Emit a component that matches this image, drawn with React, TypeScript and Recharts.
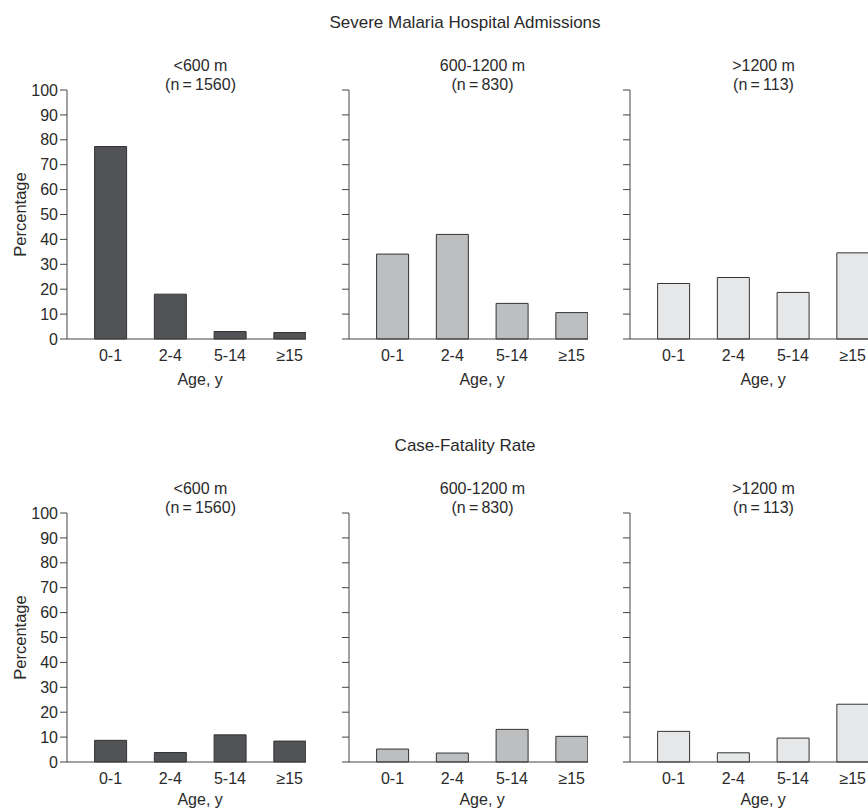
import { BarChart, Bar, XAxis, YAxis, Rectangle } from 'recharts';

const ageGroups = ['0-1', '2-4', '5-14', '≥15'];
const altitudeBands = ['<600 m', '600-1200 m', '>1200 m'];
const sampleSizes = [1560, 830, 113];
const yTicks = [0, 10, 20, 30, 40, 50, 60, 70, 80, 90, 100];

const admissionsLow = [77.3, 18, 3, 2.6];
const admissionsMid = [34.1, 42, 14.3, 10.6];
const admissionsHigh = [22.3, 24.7, 18.7, 34.6];

const fatalityLow = [8.7, 3.8, 10.9, 8.4];
const fatalityMid = [5.2, 3.6, 13.1, 10.3];
const fatalityHigh = [12.3, 3.7, 9.6, 23.2];

const bandFills = ['#525356', '#bdbec0', '#e6e7e8'];

const font = '"Liberation Sans", Arial, sans-serif';
const textColor = '#2a2a2a';
const axisColor = '#444';
const shift = 13.6;

// bars sit against the right side of each category band
const shiftedBar = (props: any) => (
  <Rectangle
    x={props.x + shift}
    y={props.y}
    width={props.width}
    height={props.height}
    fill={props.fill}
    stroke="#333"
    strokeWidth={1}
  />
);

function Panel({ values, fill, first, left, top, ageOffset }: any) {
  const data = ageGroups.map((age, i) => ({ age, value: values[i] }));
  return (
    <div style={{ position: 'absolute', left, top }}>
      <BarChart width={298} height={309} data={data} margin={{ top: 10, right: 0, bottom: 0, left: 0 }}>
        <XAxis
          dataKey="age"
          interval={0}
          tickLine={false}
          tickMargin={5}
          height={50}
          axisLine={{ stroke: axisColor }}
          tick={{ fontSize: 16, fill: textColor, fontFamily: font, dx: shift }}
          label={{ value: 'Age, y', position: 'insideBottom', offset: ageOffset, dx: shift, fontSize: 16, fill: textColor, fontFamily: font }}
        />
        <YAxis
          domain={[0, 100]}
          ticks={yTicks}
          width={59}
          tickSize={7}
          tickMargin={2}
          axisLine={{ stroke: axisColor }}
          tickLine={{ stroke: axisColor }}
          tick={{ fontSize: 16, fill: textColor, fontFamily: font }}
          tickFormatter={first ? undefined : () => ''}
          label={
            first
              ? { value: 'Percentage', angle: -90, position: 'insideLeft', offset: 12, fontSize: 16.5, fill: textColor, fontFamily: font, style: { textAnchor: 'middle' } }
              : undefined
          }
        />
        <Bar dataKey="value" fill={fill} barSize={32} shape={shiftedBar} isAnimationActive={false} />
      </BarChart>
    </div>
  );
}

function Subtitle({ idx, left, top }: any) {
  return (
    <div
      style={{
        position: 'absolute',
        left: left + 59 + 133.5 - 80,
        top: top - 24.5,
        width: 160,
        textAlign: 'center',
        fontFamily: font,
        fontSize: 16,
        lineHeight: '19px',
        color: textColor,
      }}
    >
      {altitudeBands[idx]}
      <br />
      (n{'\u2009'}={'\u2009'}{sampleSizes[idx]})
    </div>
  );
}

const panelLefts = [0, 282, 563];

export default function App() {
  const rows = [
    { title: 'Severe Malaria Hospital Admissions', titleTop: 5, top: 72, ageOffset: 4, series: [admissionsLow, admissionsMid, admissionsHigh] },
    { title: 'Case-Fatality Rate', titleTop: 428, top: 495, ageOffset: 7, series: [fatalityLow, fatalityMid, fatalityHigh] },
  ];
  return (
    <div style={{ position: 'relative', width: 868, height: 810, overflow: 'hidden', background: '#fff' }}>
      <style>{'body { margin: 0; }'}</style>
      <div style={{ position: 'absolute', left: 8, top: 8, width: 860, height: 802 }}>
        {rows.map((row, r) => (
          <div key={r}>
            <div
              style={{
                position: 'absolute',
                left: 257,
                top: row.titleTop,
                width: 400,
                textAlign: 'center',
                fontFamily: font,
                fontSize: 17,
                lineHeight: '20px',
                color: textColor,
              }}
            >
              {row.title}
            </div>
            {row.series.map((values, i) => (
              <Panel
                key={i}
                values={values}
                fill={bandFills[i]}
                first={i === 0}
                left={panelLefts[i]}
                top={row.top}
                ageOffset={row.ageOffset}
              />
            ))}
            {row.series.map((_, i) => (
              <Subtitle key={'s' + i} idx={i} left={panelLefts[i]} top={row.top} />
            ))}
          </div>
        ))}
      </div>
    </div>
  );
}
